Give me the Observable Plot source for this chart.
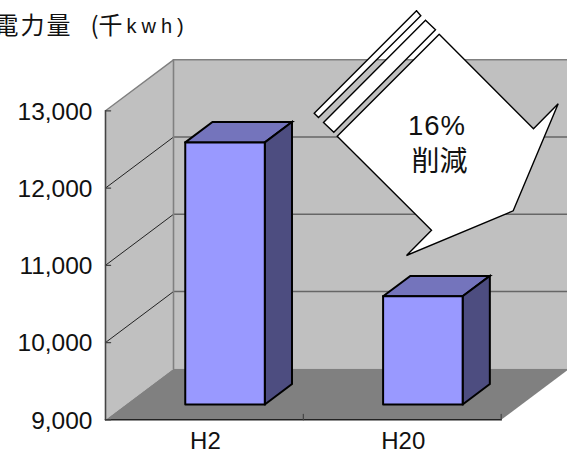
<!DOCTYPE html>
<html>
<head>
<meta charset="utf-8">
<script src="https://cdn.jsdelivr.net/npm/d3@7"></script>
<script src="https://cdn.jsdelivr.net/npm/@observablehq/plot@0.6"></script>
<style>
  html, body { margin: 0; padding: 0; background: #fff; }
  svg { display: block; }
</style>
</head>
<body>
<div id="chart"></div>
<script>
// Electricity use in two fiscal years
const categories = ["H2", "H20"];
const values = [12393, 10401];
const yTicks = [9000, 10000, 11000, 12000, 13000];
const wallTicks = [10000, 11000, 12000];
const unitName = "電力量";
const unitPrefix = "(千";
const unitLatin = "kwh)";
const calloutPercent = "16%";
const calloutVerb = "削減";

// Oblique projection: depth 1 is the back wall of the chart box.
const depthX = 0.3437;     // category units
const depthY = 660;        // value units
const barFront = 0.3, barBack = 0.7;
const barLeft = 0.3, barRight = 0.702;   // offset within a category band
const yMin = 9000, yMax = 13000, xMax = 2;

const pt = (x, v, depth = 0) => ({x: x + depth * depthX, y: v + depth * depthY});
const face = (points, fill, stroke = "none", strokeWidth = 1) =>
  Plot.line([...points, points[0]], {
    x: "x", y: "y", fill, stroke, strokeWidth,
    strokeLinejoin: "miter", strokeMiterlimit: 4
  });
const segment = (a, b, stroke, strokeWidth) =>
  Plot.line([a, b], {x: "x", y: "y", stroke, strokeWidth});

const width = 567, height = 453;
const margin = {top: 110.3, right: 66.3, bottom: 33.7, left: 105};
const X = d3.scaleLinear([0, xMax], [margin.left, width - margin.right]);
const Y = d3.scaleLinear([yMin, yMax], [height - margin.bottom, margin.top]);

// Callout arrow outlined on the page, turned into scale units for the marks.
const page = ([px, py]) => ({x: X.invert(px), y: Y.invert(py)});
const stripOuter = [[416, 10.3], [420.3, 15.3], [318, 117], [313.7, 112.7]].map(page);
const stripInner = [[425, 19.7], [435, 29.3], [333.3, 131.7], [323, 122]].map(page);
const arrowBody = [[438.7, 33.7], [533, 128.3], [557.7, 103.3], [512.7, 210.3],
                   [406, 255], [431, 229.7], [336.7, 135.7]].map(page);

const spaced = px => function (i, s, v, d, c, next) {
  const g = next(i, s, v, d, c);
  g.setAttribute("letter-spacing", px + "px");
  return g;
};
const label = (at, string, options) =>
  Plot.text([page(at)], {x: "x", y: "y", text: () => string, fill: "#111", ...options});

const wallFill = "#c0c0c0", floorFill = "#808080";
const barMarks = categories.flatMap((_, i) => {
  const v = values[i], a = i + barLeft, b = i + barRight;
  const edge = "#000", w = 2;
  return [
    face([pt(a, v, barFront), pt(b, v, barFront), pt(b, v, barBack), pt(a, v, barBack)], "#7474bc", edge, w),
    face([pt(b, yMin, barFront), pt(b, v, barFront), pt(b, v, barBack), pt(b, yMin, barBack)], "#4d4d80", edge, w),
    face([pt(a, yMin, barFront), pt(b, yMin, barFront), pt(b, v, barFront), pt(a, v, barFront)], "#9999ff", edge, w)
  ];
});

const chart = Plot.plot({
  width, height, margin: 0,
  marginTop: margin.top, marginRight: margin.right,
  marginBottom: margin.bottom, marginLeft: margin.left,
  style: {background: "#fff", overflow: "hidden"},
  x: {domain: [0, xMax]},
  y: {domain: [yMin, yMax]},
  marks: [
    // Chart box: back wall, side wall, floor
    face([pt(0, yMin, 1), pt(xMax, yMin, 1), pt(xMax, yMax, 1), pt(0, yMax, 1)], wallFill),
    face([pt(0, yMin), pt(0, yMin, 1), pt(0, yMax, 1), pt(0, yMax)], wallFill),
    face([pt(0, yMin), pt(xMax, yMin), pt(xMax, yMin, 1), pt(0, yMin, 1)], floorFill),

    // Gridlines running along the side wall and across the back wall
    ...wallTicks.flatMap(v => [
      segment(pt(0, v), pt(0, v, 1), "#222", 1),
      segment(pt(0, v, 1), pt(xMax, v, 1), "#666", 1.4)
    ]),
    segment(pt(0, yMax), pt(0, yMax, 1), "#808080", 1.4),
    segment(pt(0, yMax, 1), pt(xMax, yMax, 1), "#808080", 1.6),
    segment(pt(0, yMin, 1), pt(0, yMax, 1), "#808080", 1.6),

    // Axis lines and inward ticks
    segment(pt(0, yMin), pt(0, yMax), "#444", 1.6),
    segment(pt(0, yMin), pt(xMax, yMin), "#222", 1.6),
    ...yTicks.map(v => segment(pt(0, v), pt(0.026, v), "#444", 1.2)),
    ...[1, 2].map(x => segment(pt(x, yMin), pt(x, yMin + 70), "#444", 1.2)),

    ...barMarks,

    // Callout arrow
    face(stripOuter, "#fff", "#000", 1.4),
    face(stripInner, "#fff", "#000", 1.4),
    face(arrowBody, "#fff", "#000", 1.4),

    // Axis labels
    Plot.axisY(yTicks, {
      anchor: "left", tickSize: 0, tickPadding: 13, label: null, dy: 1,
      tickFormat: d3.format(","), fontSize: 24.5,
      fontFamily: "Liberation Sans", fill: "#111"
    }),
    Plot.axisX([0.5, 1.5], {
      anchor: "bottom", tickSize: 0, tickPadding: 12, label: null, dx: 1,
      tickFormat: d => categories[Math.floor(d)], fontSize: 24,
      fontFamily: "Liberation Sans", fill: "#111"
    }),

    // Unit label
    label([-6, 26], unitName, {textAnchor: "start", fontSize: 24, fontFamily: "Noto Sans CJK JP", render: spaced(2)}),
    label([90, 26], unitPrefix, {textAnchor: "start", fontSize: 24, fontFamily: "Noto Sans CJK JP", render: spaced(0)}),
    label([126, 26], unitLatin, {textAnchor: "start", fontSize: 20, fontFamily: "Liberation Sans", render: spaced(5)}),

    // Callout text
    label([436.5, 125.5], calloutPercent, {fontSize: 27.5, fontFamily: "Liberation Sans", render: spaced(1)}),
    label([439, 161.5], calloutVerb, {fontSize: 28, fontFamily: "Noto Sans CJK JP"})
  ]
});

document.getElementById("chart").append(chart);
</script>
</body>
</html>
